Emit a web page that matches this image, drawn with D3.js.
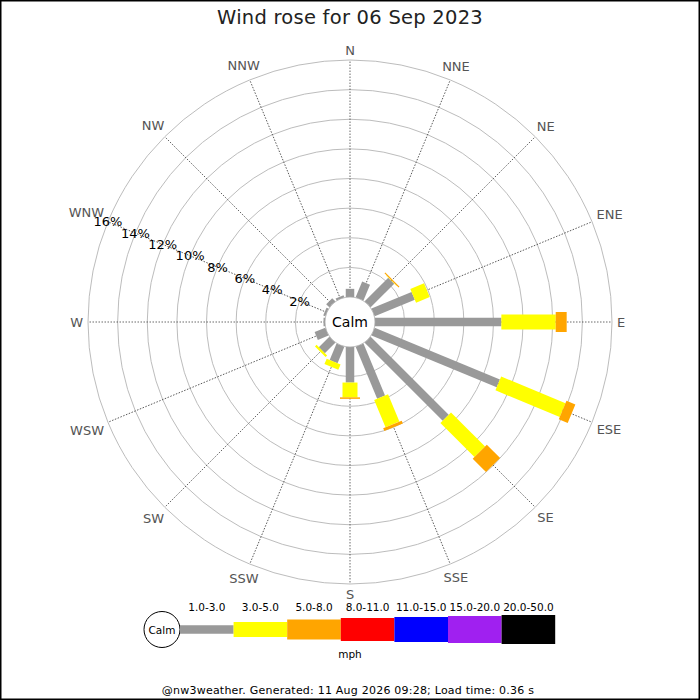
<!DOCTYPE html>
<html>
<head>
<meta charset="utf-8">
<script src="https://cdn.jsdelivr.net/npm/d3@7"></script>
<style>
  body { margin: 0; background: #fff; }
  svg { display: block; font-family: "DejaVu Sans", sans-serif; }
</style>
</head>
<body>
<div id="chart"></div>
<script>
// directions, clockwise from north
const directions = ['N', 'NNE', 'NE', 'ENE', 'E', 'ESE', 'SE', 'SSE',
                    'S', 'SSW', 'SW', 'WSW', 'W', 'WNW', 'NW', 'NNW'];

// % of time in each speed band (mph), per direction
const band1to3  = [0.55, 1.15, 2.25, 2.93, 8.53, 9.15, 7.45, 3.8, 2.4, 1.2, 1.0, 0.78, 0.1, 0.15, 0.3, 0.15];
const band3to5  = [0, 0, 0.03, 1.0, 3.67, 4.7, 3.25, 2.0, 1.0, 0.4, 0.15, 0, 0, 0, 0, 0];
const band5to8  = [0, 0, 0.08, 0, 0.74, 0.65, 1.27, 0.2, 0.1, 0, 0, 0, 0, 0, 0, 0];

const speedBands = ['1.0-3.0', '3.0-5.0', '5.0-8.0', '8.0-11.0', '11.0-15.0', '15.0-20.0', '20.0-50.0'];
const bandColors = ['#999999', '#ffff00', '#ffa500', '#ff0000', '#0000ff', '#a020f0', '#000000'];
const bandWidths = [8.5, 15, 20, 23, 25, 27, 29];

const ringTicks = [2, 4, 6, 8, 10, 12, 14, 16];

const title = 'Wind rose for 06 Sep 2023';
const footer = '@nw3weather. Generated: 11 Aug 2026 09:28; Load time: 0.36 s';

const width = 700, height = 700;
const cx = 350, cy = 322;
const calmR = 25;

const svg = d3.select('#chart').append('svg')
  .attr('width', width)
  .attr('height', height);

// frame
svg.append('rect')
  .attr('x', 0.75).attr('y', 0.75)
  .attr('width', width - 1.5).attr('height', height - 1.5)
  .attr('fill', 'none')
  .attr('stroke', '#000')
  .attr('stroke-width', 1.5);

svg.append('text')
  .attr('x', width / 2).attr('y', 24)
  .attr('text-anchor', 'middle')
  .attr('font-size', 19.5)
  .attr('letter-spacing', 0.25)
  .attr('fill', '#222')
  .text(title);

const r = d3.scaleLinear().domain([0, 16]).range([calmR, 262]);
const angle = d3.scaleLinear().domain([0, directions.length]).range([0, 360]);

const g = svg.append('g').attr('transform', `translate(${cx},${cy})`);

// rings
g.selectAll('circle.ring')
  .data(ringTicks)
  .enter().append('circle')
  .attr('class', 'ring')
  .attr('r', d => r(d))
  .attr('fill', 'none')
  .attr('stroke', '#b4b4b4')
  .attr('stroke-width', 0.9);

// spokes
g.selectAll('line.spoke')
  .data(directions)
  .enter().append('line')
  .attr('class', 'spoke')
  .attr('transform', (d, i) => `rotate(${angle(i)})`)
  .attr('x1', 0).attr('y1', -calmR)
  .attr('x2', 0).attr('y2', -r(16))
  .attr('stroke', '#444')
  .attr('stroke-width', 0.8)
  .attr('stroke-dasharray', '1.5,1.5');

// direction labels
g.selectAll('text.dir')
  .data(directions)
  .enter().append('text')
  .attr('class', 'dir')
  .attr('font-size', 13)
  .attr('fill', '#555')
  .attr('text-anchor', 'middle')
  .attr('dominant-baseline', 'central')
  .text(d => d)
  .each(function(d, i) {
    const a = angle(i) * Math.PI / 180;
    const w = this.getComputedTextLength();
    const h = 10;
    const rr = 267 + Math.abs(Math.sin(a)) * w / 2 + Math.abs(Math.cos(a)) * h / 2;
    d3.select(this)
      .attr('x', rr * Math.sin(a))
      .attr('y', -rr * Math.cos(a));
  });

// bars
const rows = directions.map((d, i) => ({dir: i, b0: band1to3[i], b1: band3to5[i], b2: band5to8[i]}));
const stack = d3.stack().keys(['b0', 'b1', 'b2']);
const series = stack(rows);

const bars = g.append('g').attr('class', 'bars');
series.forEach((s, k) => {
  bars.selectAll('rect.band' + k)
    .data(s.filter(d => d[1] > d[0]))
    .enter().append('rect')
    .attr('class', 'band' + k)
    .attr('transform', d => `rotate(${angle(d.data.dir)})`)
    .attr('x', -bandWidths[k] / 2)
    .attr('width', bandWidths[k])
    .attr('y', d => -r(d[1]))
    .attr('height', d => r(d[1]) - r(d[0]))
    .attr('fill', bandColors[k]);
});

// calm circle
g.append('circle')
  .attr('r', calmR)
  .attr('fill', '#fff')
  .attr('stroke', '#aaa')
  .attr('stroke-width', 0.8);

g.append('text')
  .attr('text-anchor', 'middle')
  .attr('dominant-baseline', 'central')
  .attr('font-size', 14)
  .attr('fill', '#000')
  .text('Calm');

// percent labels along WNW
const labelA = angle(13) * Math.PI / 180;
g.selectAll('text.pct')
  .data(ringTicks)
  .enter().append('text')
  .attr('class', 'pct')
  .attr('x', d => r(d) * Math.sin(labelA))
  .attr('y', d => -r(d) * Math.cos(labelA))
  .attr('text-anchor', 'middle')
  .attr('dominant-baseline', 'central')
  .attr('font-size', 13)
  .attr('fill', '#000')
  .text(d => d + '%');

// legend
const legX = 180, legY = 629.5, segW = 53.6;
const leg = svg.append('g').attr('class', 'legend');

leg.append('circle')
  .attr('cx', legX - 18).attr('cy', legY)
  .attr('r', 18)
  .attr('fill', '#fff')
  .attr('stroke', '#000')
  .attr('stroke-width', 1);

leg.append('text')
  .attr('x', legX - 18).attr('y', legY)
  .attr('text-anchor', 'middle')
  .attr('dominant-baseline', 'central')
  .attr('font-size', 10.5)
  .text('Calm');

const legScale = d3.scaleBand().domain(speedBands).range([legX, legX + segW * speedBands.length]);

leg.selectAll('rect.key')
  .data(speedBands)
  .enter().append('rect')
  .attr('class', 'key')
  .attr('x', d => legScale(d))
  .attr('width', legScale.bandwidth())
  .attr('y', (d, i) => legY - bandWidths[i] / 2)
  .attr('height', (d, i) => bandWidths[i])
  .attr('fill', (d, i) => bandColors[i]);

leg.selectAll('text.key')
  .data(speedBands)
  .enter().append('text')
  .attr('class', 'key')
  .attr('x', d => legScale(d) + legScale.bandwidth() / 2)
  .attr('y', 610.5)
  .attr('text-anchor', 'middle')
  .attr('font-size', 10.5)
  .text(d => d);

leg.append('text')
  .attr('x', 350).attr('y', 658)
  .attr('text-anchor', 'middle')
  .attr('font-size', 10.5)
  .text('mph');

svg.append('text')
  .attr('x', 348).attr('y', 694)
  .attr('text-anchor', 'middle')
  .attr('font-size', 11)
  .attr('letter-spacing', 0.22)
  .text(footer);
</script>
</body>
</html>
